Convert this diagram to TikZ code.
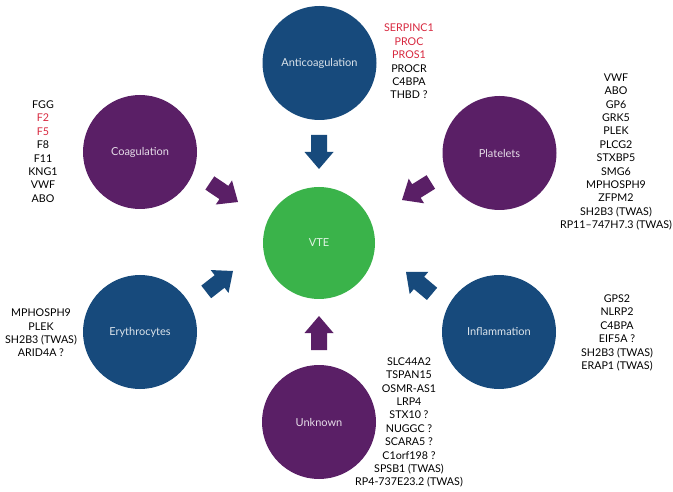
\documentclass[tikz,border=0pt]{standalone}
\usepackage{fontspec}
\setmainfont{Lato}
\definecolor{cblue}{HTML}{174A7C}
\definecolor{cpurple}{HTML}{5A1F66}
\definecolor{cgreen}{HTML}{3AB34A}
\definecolor{cred}{HTML}{D8283F}
\newcommand\blockarrow[3]{\fill[#1, shift={#2}, rotate=#3] (0,0) -- (-17,14.5) -- (-17,8) -- (-34,8) -- (-34,-8) -- (-17,-8) -- (-17,-14.5) -- cycle;}
\begin{document}
\begin{tikzpicture}[x=1pt,y=1pt,
  circ/.style={circle, minimum size=114pt, inner sep=0pt, font=\fontsize{11}{13}\selectfont},
  bluec/.style={circ, fill=cblue, text=white!85!cblue},
  purplec/.style={circ, fill=cpurple, text=white!85!cpurple},
  genes/.style={align=center, font=\fontsize{10.7}{13.4}\selectfont, inner sep=0pt},
  ]
\useasboundingbox (0,0) rectangle (673,491);
\fill[white] (0,0) rectangle (673,491);

\node[circ, fill=cgreen, text=white!85!cgreen, minimum size=112pt] (vte) at (319,248) {VTE};
\node[bluec] (anti) at (319.5,428) {Anticoagulation};
\node[purplec] (coag) at (140,339) {Coagulation};
\node[purplec] (plat) at (499.5,338) {Platelets};
\node[bluec] (ery) at (140,159) {Erythrocytes};
\node[bluec] (infl) at (499,159) {Inflammation};
\node[purplec] (unk) at (319,69) {Unknown};

\node[genes] (ganti) at (409,429.5) {\textcolor{cred}{SERPINC1}\\\textcolor{cred}{PROC}\\\textcolor{cred}{PROS1}\\PROCR\\C4BPA\\THBD ?};
\node[genes] (gcoag) at (43,339.5) {FGG\\\textcolor{cred}{F2}\\\textcolor{cred}{F5}\\F8\\F11\\KNG1\\VWF\\ABO};
\node[genes] (gplat) at (616,339) {VWF\\ABO\\GP6\\GRK5\\PLEK\\PLCG2\\STXBP5\\SMG6\\MPHOSPH9\\ZFPM2\\SH2B3 (TWAS)\\RP11–747H7.3 (TWAS)};
\node[genes] (gery) at (41,158) {MPHOSPH9\\PLEK\\SH2B3 (TWAS)\\ARID4A ?};
\node[genes] (ginfl) at (617,158) {GPS2\\NLRP2\\C4BPA\\EIF5A ?\\SH2B3 (TWAS)\\ERAP1 (TWAS)};
\node[genes] (gunk) at (409,68.5) {SLC44A2\\TSPAN15\\OSMR-AS1\\LRP4\\STX10 ?\\NUGGC ?\\SCARA5 ?\\C1orf198 ?\\SPSB1 (TWAS)\\RP4-737E23.2 (TWAS)};

\blockarrow{cblue}{(319,322)}{-90}
\blockarrow{cpurple}{(319,175)}{90}
\blockarrow{cpurple}{(238,289)}{-34}
\blockarrow{cblue}{(233,220)}{38}
\blockarrow{cpurple}{(402,291)}{-148}
\blockarrow{cblue}{(406,219)}{140}
\end{tikzpicture}
\end{document}
